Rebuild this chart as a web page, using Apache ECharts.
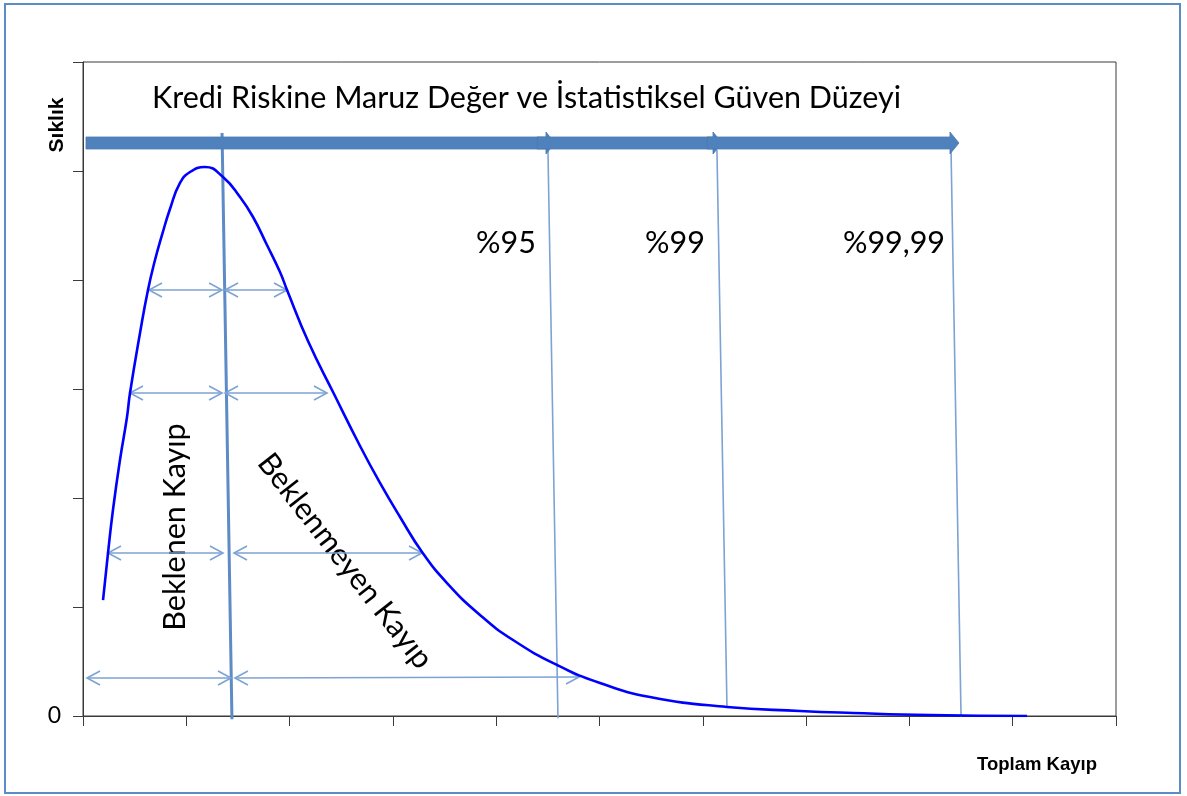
<!DOCTYPE html>
<html><head><meta charset="utf-8">
<script src="https://cdn.jsdelivr.net/npm/echarts@6/dist/echarts.min.js"></script>
<style>html,body{margin:0;padding:0;background:#fff}#c{width:1187px;height:796px}</style>
</head><body><div id="c"></div>
<script>
// Loss distribution curve (x: total loss, y: frequency)
const lossX = [0.194,0.242,0.290,0.358,0.426,0.455,0.552,0.629,0.697,0.765,0.842,0.939,1.036,1.181,1.355,1.520,1.646,1.781,1.907,1.975,2.178,2.430,2.682,2.875,3.069,3.282,3.524,3.843,4.163,4.589,5.005,5.489,6.234,6.941,7.454,8.199,9.139];
const freqY = [1.064,1.495,1.890,2.349,2.743,2.963,3.514,3.908,4.183,4.413,4.651,4.890,4.991,5.037,4.945,4.761,4.578,4.321,4.073,3.908,3.440,2.954,2.477,2.138,1.826,1.505,1.220,0.927,0.697,0.468,0.303,0.174,0.083,0.046,0.028,0.009,0.0];
// Span arrows [xFrom, yFrom, xTo, yTo]
const spanArrows = [
  [0.639,3.908,1.346,3.908],[1.375,3.908,1.975,3.908],
  [0.455,2.963,1.346,2.963],[1.375,2.963,2.362,2.963],
  [0.242,1.495,1.355,1.495],[1.462,1.495,3.282,1.495],
  [0.039,0.349,1.433,0.349],[1.471,0.349,4.802,0.358]
];
// Expected loss line [x1,y1,x2,y2]
const expectedLine = [[1.346,5.349,1.442,-0.03]];
// Confidence level lines [x1,y1,x2,y2]
const confidenceLines = [[4.501,5.193,4.598,-0.02],[6.137,5.193,6.234,0.083],[8.403,5.193,8.500,-0.01]];
const confidenceLabels = ['%95','%99','%99,99'];
// Big arrow segments [xStart, xTip, y]
const exposureArrow = [[0.029,4.569,5.257],[4.395,6.186,5.257],[6.041,8.480,5.257]];
const yTickLabels = {0:'0'};
const titleText = 'Kredi Riskine Maruz Değer ve İstatistiksel Güven Düzeyi';
const xName = 'Toplam Kayıp', yName = 'Sıklık';
const expectedText = 'Beklenen Kayıp', unexpectedText = 'Beklenmeyen Kayıp';

const curveData = lossX.map((x,i)=>[x,freqY[i]]);
const thinBlue = '#7da3d3';

function arrowItem(params, api){
  const a = api.coord([api.value(0), api.value(1)]);
  const b = api.coord([api.value(2), api.value(3)]);
  const dx=b[0]-a[0], dy=b[1]-a[1], L=Math.hypot(dx,dy), ux=dx/L, uy=dy/L;
  const hl=13, hw=7;
  const head=(p,d)=>{const n=[-d[1],d[0]];return [[p[0]-d[0]*hl+n[0]*hw,p[1]-d[1]*hl+n[1]*hw],[p[0],p[1]],[p[0]-d[0]*hl-n[0]*hw,p[1]-d[1]*hl-n[1]*hw]];};
  const st={stroke:thinBlue,lineWidth:1.6,fill:'none'};
  return {type:'group',children:[
    {type:'line',shape:{x1:a[0],y1:a[1],x2:b[0],y2:b[1]},style:st},
    {type:'polyline',shape:{points:head(b,[ux,uy])},style:st},
    {type:'polyline',shape:{points:head(a,[-ux,-uy])},style:st}
  ]};
}
function segItem(width,color){
  return function(params, api){
    const a = api.coord([api.value(0), api.value(1)]);
    const b = api.coord([api.value(2), api.value(3)]);
    return {type:'line',shape:{x1:a[0],y1:a[1],x2:b[0],y2:b[1]},style:{stroke:color,lineWidth:width}};
  };
}
function bigArrowItem(params, api){
  const a = api.coord([api.value(0), api.value(2)]);
  const b = api.coord([api.value(1), api.value(2)]);
  const hl=9, bw=6, hw=11, y=a[1];
  return {type:'polygon',shape:{points:[[a[0],y-bw],[b[0]-hl,y-bw],[b[0]-hl,y-hw],[b[0],y],[b[0]-hl,y+hw],[b[0]-hl,y+bw],[a[0],y+bw]]},
    style:{fill:'#4f81bd',stroke:'#4a7ab4',lineWidth:0.8}};
}

const chart = echarts.init(document.getElementById('c'), null, {renderer:'canvas'});
const axisCol = '#3a3a3a';
const calib = 'Lato, "Open Sans", sans-serif';
const arialB = '"Liberation Sans", Arial, sans-serif';
chart.setOption({
  animation:false,
  backgroundColor:'#fff',
  grid:{left:83,right:71,top:62,bottom:80,show:true,borderColor:axisCol,borderWidth:1,backgroundColor:'transparent'},
  xAxis:{type:'value',min:0,max:10,interval:1,
    axisLine:{show:true,lineStyle:{color:axisCol,width:1}},
    axisTick:{show:true,length:10,lineStyle:{color:axisCol,width:1}},
    axisLabel:{show:false},splitLine:{show:false}},
  yAxis:{type:'value',min:0,max:6,interval:1,
    axisLine:{show:true,lineStyle:{color:axisCol,width:1}},
    axisTick:{show:true,length:10,lineStyle:{color:axisCol,width:1}},
    axisLabel:{show:true,margin:22,fontFamily:calib,fontSize:23,color:'#000',padding:[0,0,10,0],
      formatter:v=>yTickLabels[v]!==undefined?yTickLabels[v]:''},
    splitLine:{show:false}},
  series:[
    {type:'custom',name:'conf',clip:false,z:3,data:confidenceLines,encode:{x:[0,2],y:[1,3]},renderItem:segItem(1.6,thinBlue)},
    {type:'custom',name:'expected',clip:false,z:4,data:expectedLine,encode:{x:[0,2],y:[1,3]},renderItem:segItem(3,'#5d8bc6')},
    {type:'custom',name:'spans',clip:false,z:4,data:spanArrows,encode:{x:[0,2],y:[1,3]},renderItem:arrowItem},
    {type:'custom',name:'exposure',clip:false,z:5,data:exposureArrow,encode:{x:[0,1],y:2},renderItem:bigArrowItem},
    {type:'line',name:'curve',z:6,data:curveData,smooth:0.5,symbol:'none',lineStyle:{color:'#0000ff',width:2.6}}
  ],
  graphic:[
    {type:'rect',shape:{x:5,y:4,width:1175,height:789},style:{fill:'none',stroke:'#5b8cc8',lineWidth:2},z:0,silent:true},
    {type:'text',x:152,y:98,style:{text:titleText,fontFamily:calib,fontSize:30.5,fill:'#000',align:'left',verticalAlign:'middle'}},
    {type:'text',x:506,y:243,style:{text:confidenceLabels[0],fontFamily:calib,fontSize:30.5,fill:'#000',align:'center',verticalAlign:'middle'}},
    {type:'text',x:675,y:243,style:{text:confidenceLabels[1],fontFamily:calib,fontSize:30.5,fill:'#000',align:'center',verticalAlign:'middle'}},
    {type:'text',x:894,y:243,style:{text:confidenceLabels[2],fontFamily:calib,fontSize:30.5,fill:'#000',align:'center',verticalAlign:'middle'}},
    {type:'text',x:175,y:527,rotation:Math.PI/2,style:{text:expectedText,fontFamily:calib,fontSize:30.5,fill:'#000',align:'center',verticalAlign:'middle'}},
    {type:'text',x:345,y:561,rotation:-52*Math.PI/180,style:{text:unexpectedText,fontFamily:calib,fontSize:30.5,fill:'#000',align:'center',verticalAlign:'middle'}},
    {type:'text',x:1037,y:765,style:{text:xName,fontFamily:arialB,fontWeight:'bold',fontSize:18.5,fill:'#000',align:'center',verticalAlign:'middle'}},
    {type:'text',x:57,y:125,rotation:Math.PI/2,style:{text:yName,fontFamily:arialB,fontWeight:'bold',fontSize:21,fill:'#000',align:'center',verticalAlign:'middle'}}
  ]
});
</script></body></html>
